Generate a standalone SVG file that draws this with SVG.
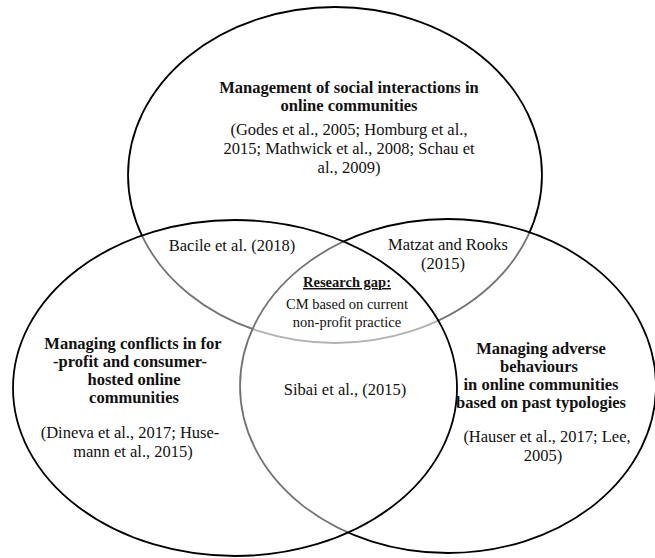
<svg xmlns="http://www.w3.org/2000/svg" width="655" height="558" viewBox="0 0 655 558">
<style>
.c{fill:#fff;fill-opacity:0.45;stroke:#000;stroke-width:1.8}
text{font-family:"Liberation Serif","Times New Roman",serif;font-size:16.5px;fill:#111;text-anchor:middle}
.b{font-weight:bold}
.s{font-size:14.5px}
</style>
<rect width="655" height="558" fill="#fff"/>
<g id="set-social"><ellipse class="c" cx="335" cy="175" rx="207" ry="168"/></g>
<g id="set-adverse"><ellipse class="c" cx="448" cy="386" rx="208" ry="167"/></g>
<g id="set-conflicts"><ellipse class="c" cx="235" cy="388" rx="222" ry="168"/></g>
<g id="label-social">
<text class="b" x="349" y="93">Management of social interactions in</text>
<text class="b" x="349" y="111">online communities</text>
<text x="349" y="135">(Godes et al., 2005; Homburg et al.,</text>
<text x="349" y="154">2015; Mathwick et al., 2008; Schau et</text>
<text x="349" y="173">al., 2009)</text>
</g>
<g id="label-conflicts">
<text class="b" x="133" y="349">Managing conflicts in for</text>
<text class="b" x="130" y="367">-profit and consumer-</text>
<text class="b" x="134" y="385">hosted online</text>
<text class="b" x="134" y="403">communities</text>
<text x="130" y="438">(Dineva et al., 2017; Huse-</text>
<text x="133" y="457">mann et al., 2015)</text>
</g>
<g id="label-adverse">
<text class="b" x="541" y="354">Managing adverse</text>
<text class="b" x="539" y="372">behaviours</text>
<text class="b" x="541" y="390">in online communities</text>
<text class="b" x="541" y="408">based on past typologies</text>
<text x="547" y="442">(Hauser et al., 2017; Lee,</text>
<text x="543" y="461">2005)</text>
</g>
<g id="label-bacile"><text x="232" y="251">Bacile et al. (2018)</text></g>
<g id="label-matzat">
<text x="448" y="250">Matzat and Rooks</text>
<text x="443" y="269">(2015)</text>
</g>
<g id="label-gap">
<text class="b s" x="347" y="287" text-decoration="underline">Research gap:</text>
<text class="s" x="347" y="309">CM based on current</text>
<text class="s" x="347" y="327">non-profit practice</text>
</g>
<g id="label-sibai"><text x="345" y="395">Sibai et al., (2015)</text></g>
</svg>
